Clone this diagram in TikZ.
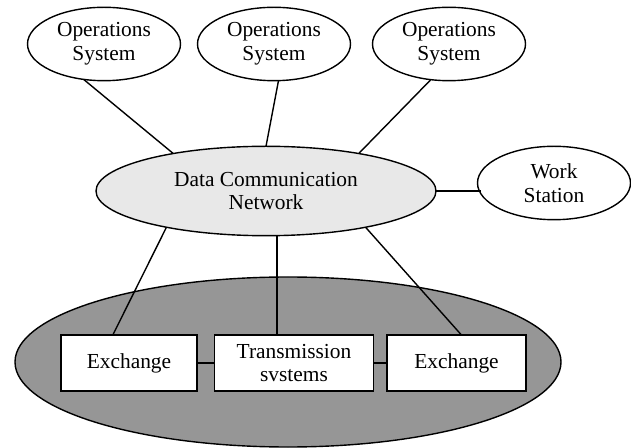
\documentclass[tikz,border=0pt]{standalone}
\usepackage{fontspec}
\setmainfont{Liberation Serif}
\usetikzlibrary{shapes.geometric}
\definecolor{netgray}{gray}{0.59}
\definecolor{dcngray}{gray}{0.91}

\begin{document}
\begin{tikzpicture}[x=0.5pt, y=-0.5pt,
            txt/.style={font=\fontsize{10.7}{11.85}\selectfont, align=center, inner sep=0pt, outer sep=0pt},
            osys/.style={txt, ellipse, draw, line width=0.7pt, minimum width=76.5pt, minimum height=36.7pt},
            dcn/.style={txt, ellipse, draw, line width=0.7pt, fill=dcngray, minimum width=170pt, minimum height=44.7pt},
            tmn/.style={ellipse, draw, line width=0.7pt, fill=netgray, minimum width=273pt, minimum height=85pt, outer sep=0pt},
            ne/.style={txt, rectangle, draw, line width=0.7pt, fill=white, minimum height=28pt},
            link/.style={line width=0.7pt}
        ]
            \useasboundingbox (0,0) rectangle (631,448);

            % --- network element area ---
            \node[tmn] (net) at (288,362) {};

            % --- nodes ---
            \node[osys] (os1) at (104,44) {Operations\\System};
            \node[osys] (os2) at (274,44) {Operations\\System};
            \node[osys] (os3) at (449,44) {Operations\\System};
            \node[dcn] (dcn) at (266,191) {Data Communication\\Network};
            \node[osys] (ws) at (554,183) {Work\\Station};

            \node[ne, minimum width=68pt] (ex1) at (129,363) {Exchange};
            \node[ne, minimum width=79.5pt] (tr) at (294,363) {Transmission\\svstems};
            \node[ne, minimum width=69.5pt] (ex2) at (456.5,363) {Exchange};

            % --- links ---
            \draw[link] (os1.240) -- (dcn.158);
            \draw[link] (os2.277) -- (dcn.north);
            \draw[link] (os3.243) -- (dcn.22);
            \draw[link] (dcn.east) -- (dcn.east -| ws.188);
            \draw[link] (dcn.200) -- (ex1.120);
            \draw[link] (tr.121 |- dcn.south) -- (tr.121);
            \draw[link] (dcn.340) -- (ex2.80);
            \draw[link] (ex1.east) -- (tr.west);
            \draw[link] (tr.east) -- (ex2.west);
        \end{tikzpicture}
\end{document}
